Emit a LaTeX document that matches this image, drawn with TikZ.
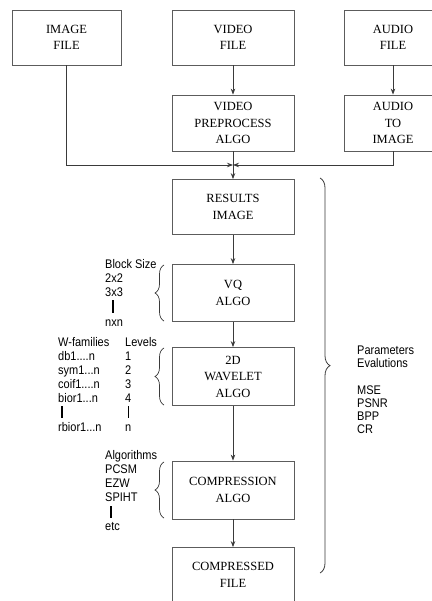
\documentclass[tikz,border=0pt]{standalone}
\usepackage{fontspec}
\usepackage{tikz}
\usetikzlibrary{arrows.meta,decorations.pathreplacing}
\newfontfamily\boxfont{Liberation Serif}
\newfontfamily\lblfont[FakeStretch=0.88]{Liberation Sans}
\definecolor{edge}{HTML}{5C5C5C}
\definecolor{wire}{HTML}{3A3A3A}
\tikzset{
  stage/.style={draw=edge,line width=0.8pt,fill=white,align=center,
                inner sep=0pt,minimum width=122pt,minimum height=55pt,
                font=\boxfont\fontsize{12.5}{16.5}\selectfont},
  lbl/.style={anchor=west,inner sep=0pt,text height=9pt,text depth=0pt,
              font=\lblfont\fontsize{12.5}{14}\selectfont},
  flow/.style={-{Stealth[length=6pt,width=4.5pt]},line width=0.8pt,draw=wire},
  grpbrace/.style={decorate,decoration={brace,amplitude=9pt},
                   line width=0.7pt,draw=wire},
  bigbrace/.style={decorate,decoration={brace,amplitude=10pt,aspect=0.475},
                   line width=0.8pt,draw=wire},
  dots/.style={line width=1.4pt,draw=black}
}
\begin{document}
\begin{tikzpicture}[x=1pt,y=-1pt]
    \useasboundingbox (0,0) rectangle (431,601);
    % sources
    \node[stage,minimum width=109pt] (img) at (66.5,37.5) {IMAGE\\FILE};
    \node[stage] (vfile) at (233,37.5) {VIDEO\\FILE};
    \node[stage,minimum width=98pt] (afile) at (393,37.5) {AUDIO\\FILE};
    \node[stage,minimum height=56pt] (vpre) at (233,123) {VIDEO\\PREPROCESS\\ALGO};
    \node[stage,minimum width=98pt,minimum height=56pt] (a2i) at (393,123)
      {AUDIO\\TO\\IMAGE};
    \coordinate (join) at (233,165);
    % main chain
    \node[stage] (res) at (233,207) {RESULTS\\IMAGE};
    \node[stage,minimum height=57pt] (vq) at (233,293) {VQ\\ALGO};
    \node[stage,minimum height=58pt] (wav) at (233,376.5) {2D\\WAVELET\\ALGO};
    \node[stage,minimum height=58pt] (comp) at (233,490) {COMPRESSION\\ALGO};
    \node[stage] (cfile) at (233,575) {COMPRESSED\\FILE};
    \draw[flow] (vfile) -- (vpre);
    \draw[flow] (afile) -- (a2i);
    \draw[flow] (img.south) |- (join);
    \draw[flow] (a2i.south) |- (join);
    \draw[flow] (vpre) -- (res);
    \draw[flow] (res) -- (vq);
    \draw[flow] (vq) -- (wav);
    \draw[flow] (wav) -- (comp);
    \draw[flow] (comp) -- (cfile);
    % block sizes
    \foreach \t [count=\i] in {Block Size,2x2,3x3}
      \node[lbl] (bs\i) at (105,250+14*\i) {\t};
    \draw[dots] (113,300) -- (113,313);
    \node[lbl] (bsn) at (105,322) {nxn};
    \draw[grpbrace] (164,321) -- (164,265);
    % wavelet families and levels
    \node[lbl] (wf1) at (58,342) {W-families};
    \node[lbl] (wf2) at (58,356) {db1....n};
    \node[lbl] (wf3) at (58,370) {sym1...n};
    \node[lbl] (wf4) at (58,384) {coif1....n};
    \node[lbl] (wf5) at (58,398) {bior1...n};
    \node[lbl] (wfn) at (58,427) {rbior1...n};
    \foreach \l [count=\i] in {Levels,1,2,3,4}
      \node[lbl] (lv\i) at (125,328+14*\i) {\l};
    \node[lbl] (lvn) at (125,427) {n};
    \draw[dots] (62,406) -- (62,418);
    \draw[line width=0.8pt] (128,406) -- (128,418);
    \draw[grpbrace] (164,405) -- (164,348);
    % coders
    \foreach \t [count=\i] in {Algorithms,PCSM,EZW,SPIHT}
      \node[lbl] (al\i) at (105,441+14*\i) {\t};
    \draw[dots] (111,506) -- (111,518);
    \node[lbl] (aln) at (105,526) {etc};
    \draw[grpbrace] (164,518) -- (164,462);
    % evaluation
    \draw[bigbrace] (320,178) -- (320,573);
    \node[lbl] (par) at (357,350) {Parameters};
    \node[lbl] (evl) at (357,363) {Evalutions};
    \foreach \m [count=\i] in {MSE,PSNR,BPP,CR}
      \node[lbl] (ev\i) at (357,377+13*\i) {\m};
  \end{tikzpicture}
\end{document}
